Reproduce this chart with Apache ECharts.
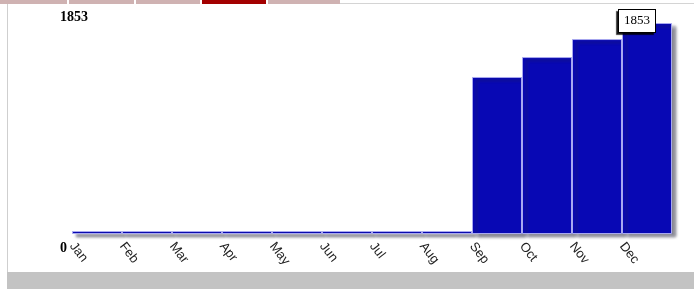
<!DOCTYPE html>
<html>
<head>
<meta charset="utf-8">
<script src="https://cdn.jsdelivr.net/npm/echarts@6/dist/echarts.min.js"></script>
<style>
  html, body { margin: 0; padding: 0; background: #fff; }
  #wrap { position: relative; width: 694px; height: 289px; overflow: hidden; }
  .tab { position: absolute; top: 0; height: 4px; background: #cfb2b2; }
  #main { position: absolute; left: 0; top: 0; width: 694px; height: 289px; }
</style>
</head>
<body>
<div id="wrap">
  <div class="tab" style="left:0;width:67px"></div>
  <div class="tab" style="left:69px;width:65px"></div>
  <div class="tab" style="left:136px;width:64px"></div>
  <div class="tab" style="left:202px;width:64px;background:#a30000"></div>
  <div class="tab" style="left:268px;width:72px"></div>
  <div style="position:absolute;left:340px;top:3px;width:354px;height:1px;background:#d4d4d4"></div>
  <div style="position:absolute;left:7px;top:4px;width:1px;height:268px;background:#cfcfcf"></div>
  <div style="position:absolute;left:7px;top:272px;width:687px;height:17px;background:#c3c3c3"></div>
  <div id="main"></div>
</div>
<script>
document.addEventListener("DOMContentLoaded", () => {
    // monthly values
    const months = ['Jan', 'Feb', 'Mar', 'Apr', 'May', 'Jun', 'Jul', 'Aug', 'Sep', 'Oct', 'Nov', 'Dec'];
    const values = [0, 0, 0, 0, 0, 0, 0, 0, 1379, 1554, 1712, 1853];
    const yTicks = [0, 1853];

    const yMax = yTicks[yTicks.length - 1];
    const lastIdx = values.length - 1;

    // only the last bar carries the boxed value label
    let barData = values.map((v, i) => i === lastIdx ? {
        value: v,
        label: {
            show: true,
            position: 'top',
            offset: [-10, 14],
            fontFamily: 'Liberation Serif',
            fontSize: 13,
            color: '#000',
            backgroundColor: '#fff',
            borderColor: '#000',
            borderWidth: 1,
            padding: [4, 5, 4, 5],
            lineHeight: 14,
            shadowColor: 'rgba(0,0,0,0.7)',
            shadowOffsetX: -2,
            shadowOffsetY: 2,
            shadowBlur: 1
        }
    } : v);

    echarts.init(document.querySelector("#main")).setOption({
        animation: false,
        grid: { left: 72, right: 22, top: 23, bottom: 55 },
        xAxis: [{
            type: 'category',
            data: months,
            show: false
        }, {
            type: 'value',
            min: 0,
            max: months.length,
            interval: 1,
            position: 'bottom',
            axisLine: { show: false },
            axisTick: { show: false },
            splitLine: { show: false },
            axisLabel: {
                rotate: -52,
                margin: 10,
                fontFamily: 'Liberation Sans',
                fontSize: 13,
                color: '#222',
                formatter: v => months[v] || ''
            }
        }],
        yAxis: {
            type: 'value',
            min: yTicks[0],
            max: yMax,
            interval: yMax,
            axisLine: { show: false },
            axisTick: { show: false },
            splitLine: { show: false },
            axisLabel: {
                align: 'left',
                margin: 12,
                formatter: v => v === 0 ? '{lo|' + v + '}' : '{hi|' + v + '}',
                rich: {
                    lo: { fontFamily: 'Liberation Serif', fontWeight: 'bold', fontSize: 14, color: '#000', padding: [28, 0, 0, 0] },
                    hi: { fontFamily: 'Liberation Serif', fontWeight: 'bold', fontSize: 14, color: '#000', padding: [0, 0, 12, 0] }
                }
            }
        },
        series: [{
            type: 'bar',
            xAxisIndex: 0,
            data: barData,
            barCategoryGap: '0%',
            barMinHeight: 3,
            itemStyle: {
                color: '#0808b4',
                borderColor: '#a8a8f0',
                borderWidth: 1,
                shadowColor: 'rgba(40,40,60,0.55)',
                shadowBlur: 3,
                shadowOffsetX: 4,
                shadowOffsetY: 3
            }
        }]
    });
});
</script>
</body>
</html>
